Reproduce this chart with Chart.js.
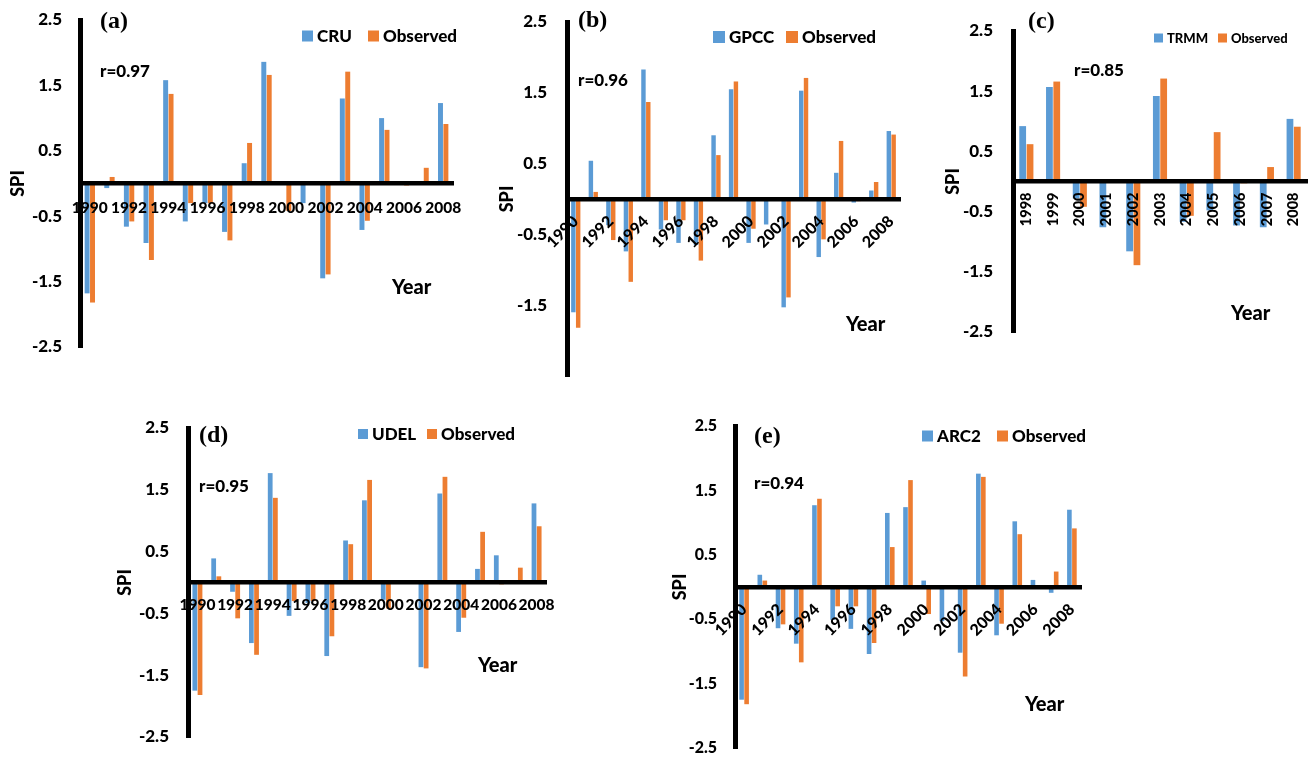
<!DOCTYPE html>
<html><head><meta charset="utf-8">
<script src="https://cdn.jsdelivr.net/npm/chart.js@4.4.1/dist/chart.umd.min.js"></script>
<style>
html,body{margin:0;padding:0;background:#fff;width:1309px;height:758px;overflow:hidden}
.pane{position:absolute;left:0;top:0;width:1309px;height:758px}
</style></head><body>
<script>
// ---------------- DATA ----------------
const years = ['1990','1991','1992','1993','1994','1995','1996','1997','1998','1999','2000','2001','2002','2003','2004','2005','2006','2007','2008'];
const trmmYears = ['1998','1999','2000','2001','2002','2003','2004','2005','2006','2007','2008'];
const observed = [-1.82, 0.10, -0.58, -1.17, 1.37, -0.30, -0.30, -0.87, 0.62, 1.66, -0.42, 0.00, -1.39, 1.71, -0.57, 0.82, -0.03, 0.24, 0.91];
const cru      = [-1.68, -0.07, -0.66, -0.91, 1.58, -0.58, -0.30, -0.74, 0.31, 1.86, 0.00, -0.30, -1.45, 1.30, -0.71, 1.00, 0.00, 0.00, 1.23];
const gpcc     = [-1.60, 0.54, -0.37, -0.74, 1.83, -0.43, -0.62, -0.65, 0.90, 1.55, -0.62, -0.36, -1.53, 1.53, -0.82, 0.37, -0.05, 0.12, 0.96];
const udel     = [-1.75, 0.39, -0.15, -0.98, 1.77, -0.54, -0.33, -1.19, 0.68, 1.33, -0.28, 0.00, -1.37, 1.44, -0.80, 0.22, 0.44, 0.00, 1.28];
const arc2     = [-1.75, 0.19, -0.64, -0.88, 1.27, -0.51, -0.65, -1.04, 1.15, 1.24, 0.10, -0.53, -1.02, 1.76, -0.75, 1.02, 0.11, -0.09, 1.20];
const trmm     = [0.92, 1.57, -0.28, -0.76, -1.16, 1.42, -0.67, -0.48, -0.73, -0.76, 1.04];
const observedTrmm = observed.slice(years.indexOf('1998'));
const yTickValues = [-2.5, -1.5, -0.5, 0.5, 1.5, 2.5];
const productNames = ['CRU', 'GPCC', 'TRMM', 'UDEL', 'ARC2'];
const correlations = ['r=0.97', 'r=0.96', 'r=0.85', 'r=0.95', 'r=0.94'];
const panelTags = ['(a)', '(b)', '(c)', '(d)', '(e)'];

// ---------------- LAYOUT ----------------
const W = 1309, H = 758;
const BLUE = '#5B9BD5', ORANGE = '#ED7D31';
const WEIGHT = 900;
Chart.defaults.font.family = 'Lato';

const panels = [
  {labels: years, values: cru, obs: observed, area:{l:80,t:20,r:453,b:347}, tickPad:18, yFont:17, spiX:18,
   rot:0, xPad:15, xFont:15.5, every:2, hideLow:false,
   legend:{x1:302,x2:368,y:36,size:17,box:11}, tag:{x:100,y:22}, rp:{x:100,y:72}, year:{x:392,y:288}},
  {labels: years, values: gpcc, obs: observed, area:{l:567,t:22,r:900,b:376}, tickPad:20, yFont:17, spiX:507,
   rot:45, xPad:13, xFont:16, every:2, hideLow:true,
   legend:{x1:713,x2:786,y:37,size:17,box:12}, tag:{x:578,y:21}, rp:{x:578,y:81}, year:{x:846,y:325}},
  {labels: trmmYears, values: trmm, obs: observedTrmm, area:{l:1013,t:31,r:1307,b:332}, tickPad:20, yFont:17, spiX:953,
   rot:90, xPad:11, xFont:14.5, every:1, hideLow:false,
   legend:{x1:1154,x2:1218,y:38,size:13,box:9}, tag:{x:1028,y:22}, rp:{x:1074,y:71}, year:{x:1231,y:314}},
  {labels: years, values: udel, obs: observed, area:{l:188,t:428,r:546,b:737}, tickPad:19, yFont:17, spiX:125,
   rot:0, xPad:13, xFont:15.5, every:2, hideLow:false,
   legend:{x1:358,x2:427,y:434,size:17,box:10}, tag:{x:199,y:436}, rp:{x:199,y:487}, year:{x:478,y:666}},
  {labels: years, values: arc2, obs: observed, area:{l:735,t:426,r:1081,b:748}, tickPad:18, yFont:16, spiX:680,
   rot:45, xPad:13, xFont:16, every:2, hideLow:false,
   legend:{x1:922,x2:997,y:436,size:17,box:11}, tag:{x:754,y:437}, rp:{x:754,y:484}, year:{x:1025,y:705}}
];

const annot = {
  id: 'annot',
  afterDraw(chart, args, o) {
    const ctx = chart.ctx, p = o.p, ds = chart.data.datasets;
    ctx.save();
    ctx.fillStyle = '#000';
    ctx.textBaseline = 'middle';
    ctx.textAlign = 'left';
    // legend
    const L = p.legend;
    ctx.font = WEIGHT + ' ' + L.size + 'px Lato';
    [[L.x1, ds[0]], [L.x2, ds[1]]].forEach(([x, d]) => {
      ctx.fillStyle = d.backgroundColor;
      ctx.fillRect(x, L.y - L.box / 2, L.box, L.box);
      ctx.fillStyle = '#000';
      ctx.fillText(d.label, x + L.box + 4, L.y + 1);
    });
    // panel tag
    ctx.font = 'bold 24px "Liberation Serif"';
    ctx.fillText(o.tag, p.tag.x, p.tag.y);
    // correlation
    ctx.font = WEIGHT + ' 17px Lato';
    ctx.fillText(o.r, p.rp.x, p.rp.y);
    // x title
    ctx.font = WEIGHT + ' 20px Lato';
    ctx.fillText('Year', p.year.x, p.year.y);
    ctx.restore();
  }
};

panels.forEach((p, i) => {
  const div = document.createElement('div');
  div.className = 'pane';
  const cv = document.createElement('canvas');
  cv.width = W; cv.height = H;
  div.appendChild(cv);
  document.body.appendChild(div);

  const spiLH = 18 * 1.2;
  const padLeft = p.spiX - spiLH / 2;
  const yWidth = p.area.l - padLeft;

  new Chart(cv, {
    type: 'bar',
    data: {
      labels: p.labels,
      datasets: [
        {label: productNames[i], data: p.values, backgroundColor: BLUE},
        {label: 'Observed', data: p.obs, backgroundColor: ORANGE}
      ]
    },
    options: {
      responsive: false,
      animation: false,
      devicePixelRatio: 1,
      categoryPercentage: 0.55,
      barPercentage: 0.92,
      layout: {padding: {left: padLeft, top: p.area.t, right: W - p.area.r, bottom: H - p.area.b}},
      plugins: {legend: {display: false}, tooltip: {enabled: false}, annot: {p: p, tag: panelTags[i], r: correlations[i]}},
      scales: {
        x: {
          type: 'category',
          position: {y: 0},
          offset: true,
          grid: {display: false, drawTicks: false, tickLength: 0},
          border: {display: true, color: '#000', width: 4.5, z: 1},
          ticks: {
            autoSkip: false, minRotation: p.rot, maxRotation: p.rot, padding: p.xPad, z: 1,
            color: '#000', font: {family: 'Lato', weight: WEIGHT, size: p.xFont},
            callback: (v, idx) => (idx % p.every === 0 ? p.labels[idx] : '')
          },
          afterFit: s => { s.paddingLeft = 0; s.paddingRight = 0; s.paddingTop = 0; s.paddingBottom = 0; }
        },
        y: {
          type: 'linear',
          min: -2.5, max: 2.5,
          afterBuildTicks: s => { s.ticks = yTickValues.map(v => ({value: v})); },
          grid: {display: false, drawTicks: false, tickLength: 0},
          border: {display: true, color: '#000', width: 5, z: 1},
          ticks: {
            autoSkip: false, padding: p.tickPad, color: '#000', z: 1,
            font: {family: 'Lato', weight: WEIGHT, size: p.yFont},
            callback: v => (p.hideLow && v < -2) ? '' : Number(v).toFixed(1)
          },
          title: {display: true, text: 'SPI', color: '#000', padding: 0,
                  font: {family: 'Lato', weight: WEIGHT, size: 18}},
          afterFit: s => { s.width = yWidth; s.paddingTop = 0; s.paddingBottom = 0; }
        }
      }
    },
    plugins: [annot]
  });
});
</script>
</body></html>
